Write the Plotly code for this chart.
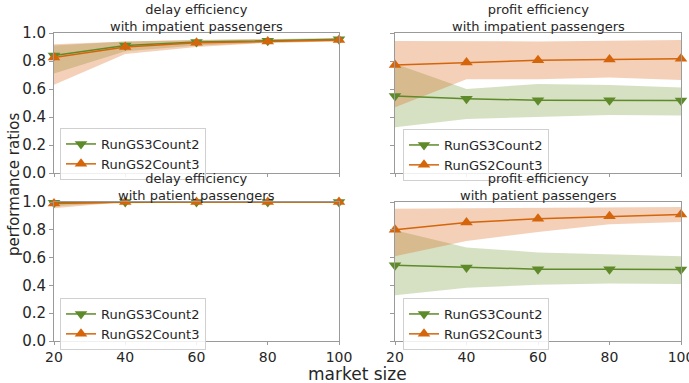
import plotly.graph_objects as go

market_size = [20, 40, 60, 80, 100]
series_names = ["RunGS3Count2", "RunGS2Count3"]

# delay efficiency, impatient
d_imp_g = [0.84, 0.91, 0.935, 0.945, 0.955]
d_imp_g_lo = [0.71, 0.87, 0.91, 0.93, 0.94]
d_imp_g_hi = [0.91, 0.94, 0.95, 0.96, 0.965]
d_imp_o = [0.825, 0.90, 0.93, 0.94, 0.95]
d_imp_o_lo = [0.63, 0.85, 0.90, 0.93, 0.94]
d_imp_o_hi = [0.92, 0.94, 0.95, 0.955, 0.96]

# profit efficiency, impatient
p_imp_g = [0.55, 0.53, 0.52, 0.52, 0.517]
p_imp_g_lo = [0.326, 0.386, 0.40, 0.414, 0.41]
p_imp_g_hi = [0.78, 0.60, 0.636, 0.628, 0.61]
p_imp_o = [0.771, 0.79, 0.805, 0.81, 0.816]
p_imp_o_lo = [0.47, 0.67, 0.67, 0.683, 0.664]
p_imp_o_hi = [0.943, 0.94, 0.94, 0.945, 0.95]

# delay efficiency, patient
d_pat_g = [0.995, 1.0, 1.0, 1.0, 1.0]
d_pat_g_lo = [0.97, 1.0, 1.0, 1.0, 1.0]
d_pat_g_hi = [1.0, 1.0, 1.0, 1.0, 1.0]
d_pat_o = [0.99, 1.0, 1.0, 1.0, 1.0]
d_pat_o_lo = [0.955, 1.0, 1.0, 1.0, 1.0]
d_pat_o_hi = [1.0, 1.0, 1.0, 1.0, 1.0]

# profit efficiency, patient
p_pat_g = [0.545, 0.529, 0.517, 0.517, 0.515]
p_pat_g_lo = [0.33, 0.383, 0.404, 0.414, 0.41]
p_pat_g_hi = [0.797, 0.673, 0.637, 0.625, 0.61]
p_pat_o = [0.80, 0.852, 0.88, 0.897, 0.91]
p_pat_o_lo = [0.61, 0.72, 0.785, 0.84, 0.856]
p_pat_o_hi = [0.952, 0.955, 0.958, 0.96, 0.964]

titles = ["delay efficiency<br>with impatient passengers",
          "profit efficiency<br>with impatient passengers",
          "delay efficiency<br>with patient passengers",
          "profit efficiency<br>with patient passengers"]

y_ticks = [0.0, 0.2, 0.4, 0.6, 0.8, 1.0]
x_ticks = [20, 40, 60, 80, 100]

GREEN = "#5e8a2a"
ORANGE = "#d4650a"
GREEN_FILL = "rgba(107,142,35,0.28)"
ORANGE_FILL = "rgba(217,100,20,0.30)"
TXT = "#262626"
FONT = "DejaVu Sans"

W, H = 689, 383
L, R, T, B = 54, 8, 33, 42
PW, PH = W - L - R, H - T - B
def px(v): return (v - L) / PW
def py(v): return (H - B - v) / PH

xdom = [[px(54), px(339)], [px(395), px(681)]]
ydom = [[py(173), py(33)], [py(341), py(202)]]

panels = [
    (d_imp_g, d_imp_g_lo, d_imp_g_hi, d_imp_o, d_imp_o_lo, d_imp_o_hi),
    (p_imp_g, p_imp_g_lo, p_imp_g_hi, p_imp_o, p_imp_o_lo, p_imp_o_hi),
    (d_pat_g, d_pat_g_lo, d_pat_g_hi, d_pat_o, d_pat_o_lo, d_pat_o_hi),
    (p_pat_g, p_pat_g_lo, p_pat_g_hi, p_pat_o, p_pat_o_lo, p_pat_o_hi),
]

fig = go.Figure()
layout = {}
legend_names = ["legend", "legend2", "legend3", "legend4"]
leg_pos = [(60, 128), (403, 129), (60, 298), (403, 298)]

for i, (g, glo, ghi, o, olo, ohi) in enumerate(panels):
    r, c = divmod(i, 2)
    sfx = "" if i == 0 else str(i + 1)
    xa, ya = "x" + sfx, "y" + sfx
    leg = legend_names[i]
    fig.add_trace(go.Scatter(x=market_size + market_size[::-1], y=ghi + glo[::-1],
                             fill="toself", fillcolor=GREEN_FILL, line=dict(width=0),
                             mode="lines", showlegend=False, hoverinfo="skip",
                             xaxis=xa, yaxis=ya))
    fig.add_trace(go.Scatter(x=market_size + market_size[::-1], y=ohi + olo[::-1],
                             fill="toself", fillcolor=ORANGE_FILL, line=dict(width=0),
                             mode="lines", showlegend=False, hoverinfo="skip",
                             xaxis=xa, yaxis=ya))
    fig.add_trace(go.Scatter(x=market_size, y=g, mode="lines+markers", name=series_names[0],
                             line=dict(color=GREEN, width=1.5),
                             marker=dict(symbol="triangle-down", size=11, color=GREEN),
                             cliponaxis=False, xaxis=xa, yaxis=ya, legend=leg))
    fig.add_trace(go.Scatter(x=market_size, y=o, mode="lines+markers", name=series_names[1],
                             line=dict(color=ORANGE, width=1.5),
                             marker=dict(symbol="triangle-up", size=11, color=ORANGE),
                             cliponaxis=False, xaxis=xa, yaxis=ya, legend=leg))
    layout["xaxis" + sfx] = dict(domain=xdom[c], anchor=ya, range=[20, 100],
                                 tickvals=x_ticks, showticklabels=(r == 1), automargin=False,
                                 ticklabeloverflow="allow",
                                 showline=True, mirror=True, linecolor="#9a9a9a", linewidth=1,
                                 ticks="outside", ticklen=3, tickcolor="#9a9a9a",
                                 showgrid=False, zeroline=False,
                                 tickfont=dict(size=14, color=TXT, family=FONT))
    layout["yaxis" + sfx] = dict(domain=ydom[r], anchor=xa, range=[0, 1],
                                 tickvals=y_ticks, tickformat=".1f", showticklabels=(c == 0),
                                 automargin=False,
                                 showline=True, mirror=True, linecolor="#9a9a9a", linewidth=1,
                                 ticks="outside", ticklen=4, tickcolor="#9a9a9a",
                                 showgrid=False, zeroline=False,
                                 tickfont=dict(size=15, color=TXT, family=FONT))
    lx, ly = leg_pos[i]
    layout[leg] = dict(x=px(lx), y=py(ly), xanchor="left", yanchor="top",
                       bgcolor="rgba(255,255,255,0.85)", bordercolor="#d0d0d0", borderwidth=1,
                       font=dict(size=13, color=TXT, family=FONT),
                       tracegroupgap=0, itemwidth=30)

annotations = []
for i, t in enumerate(titles):
    r, c = divmod(i, 2)
    annotations.append(dict(text=t, x=(xdom[c][0] + xdom[c][1]) / 2, y=ydom[r][1],
                            xref="paper", yref="paper", xanchor="center", yanchor="bottom",
                            yshift=-3, showarrow=False,
                            font=dict(size=13, color=TXT, family=FONT)))
annotations.append(dict(text="performance ratios", x=px(14), y=py(185), xref="paper", yref="paper",
                        textangle=-90, showarrow=False, xanchor="center", yanchor="middle",
                        font=dict(size=15, color=TXT, family=FONT)))
annotations.append(dict(text="market size", x=px(357), y=py(374), xref="paper", yref="paper",
                        showarrow=False, xanchor="center", yanchor="middle",
                        font=dict(size=17, color=TXT, family=FONT)))

fig.update_layout(width=W, height=H, margin=dict(l=L, r=R, t=T, b=B, autoexpand=False),
                  plot_bgcolor="white", paper_bgcolor="white",
                  annotations=annotations, **layout)

fig.write_html("out.html", config={"displayModeBar": False},
               post_script="document.body.style.margin='0';document.body.style.padding='0';")
